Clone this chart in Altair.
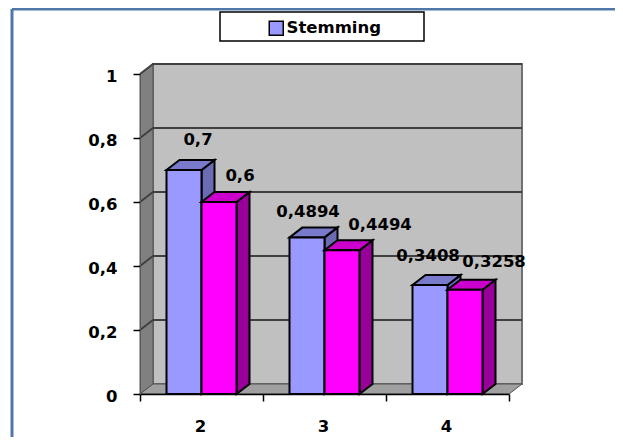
import altair as alt
import pandas as pd

categories = ["2", "3", "4"]
series_a = [0.7, 0.4894, 0.3408]
series_b = [0.6, 0.4494, 0.3258]
tick_values = [0, 0.2, 0.4, 0.6, 0.8, 1]

# layout (scale units: 1 x-unit = 123px, 1 y-unit = 320px)
W, H = 369, 320
PX, PY = 1 / 123, 1 / 320
DX, DY = 13 * PX, 10 * PY
BW = 35 * PX
BACK = "#C0C0C0"
SIDE = "#808080"
FLOOR = "#A0A0A0"
GRID = "#404040"
INK = "#000000"
FONT = "DejaVu Sans"
label_x_a = [198, 308, 428]
label_x_b = [240, 380, 494]
label_lift_a = [30, 25, 29]
label_lift_b = [26, 25, 28]

xs = alt.Scale(domain=[0, 3], nice=False, zero=False)
ys = alt.Scale(domain=[0, 1], nice=False, zero=False)
x_axis = alt.Axis(values=[0, 1, 2, 3], labels=False, grid=False, domainColor=INK, domainWidth=1.5,
                  tickColor=INK, tickWidth=1.5, tickSize=7, zindex=1)
y_axis = alt.Axis(values=tick_values, format="~g", grid=False, domainColor="#5A5A5A", tickColor=INK, tickWidth=1.5, tickSize=7,
                  labelExpr="replace(datum.label, '.', ',')", labelFont=FONT, labelFontWeight="bold",
                  labelFontSize=16.5, labelColor=INK, labelPadding=16, labelOffset=2, zindex=1)
X = alt.X("x:Q", scale=xs, title=None, axis=x_axis)
Y = alt.Y("y:Q", scale=ys, title=None, axis=y_axis)


def band(rows, color, stroke=INK, sw=2, horizontal=False):
    """Draw a parallelogram given as rows of x,y,y2 (or y,x,x2)."""
    df = pd.DataFrame(rows)
    if horizontal:
        return alt.Chart(df).mark_area(orient="horizontal").encode(
            y=Y, x=X, x2="x2:Q", fill=alt.value(color), fillOpacity=alt.value(1),
            stroke=alt.value(stroke), strokeWidth=alt.value(sw))
    return alt.Chart(df).mark_area(orient="vertical").encode(
        x=X, y=Y, y2="y2:Q", fill=alt.value(color), fillOpacity=alt.value(1),
        stroke=alt.value(stroke), strokeWidth=alt.value(sw))


layers = []

# outer frame: top and left edges only
edge = alt.Chart(pd.DataFrame({"a": [0]}))
layers.append(edge.mark_rule(color="#4F78A8", strokeWidth=3).encode(
    x=alt.value(-128), x2=alt.value(475), y=alt.value(-65)))
layers.append(edge.mark_rule(color="#4F78A8", strokeWidth=3).encode(
    x=alt.value(-128), y=alt.value(-65), y2=alt.value(363)))

# legend box
layers.append(edge.mark_rect(fill="white", stroke=INK, strokeWidth=1.5).encode(
    x=alt.value(80), x2=alt.value(284), y=alt.value(-62), y2=alt.value(-33)))

# walls
layers.append(band([{"x": DX, "y": DY, "y2": 1 + DY}, {"x": 3 + DX, "y": DY, "y2": 1 + DY}], BACK, stroke="#707070", sw=2))
layers.append(band([{"x": 0, "y": 0, "y2": 1}, {"x": DX, "y": DY, "y2": 1 + DY}], SIDE, stroke="#505050", sw=1))
layers.append(band([{"y": 0, "x": 0, "x2": 3}, {"y": DY, "x": DX, "x2": 3 + DX}], FLOOR, stroke="#505050", sw=1, horizontal=True))

# grid lines: back wall plus the slant on the side wall
grid_rows = []
for i, v in enumerate(tick_values[1:]):
    grid_rows += [{"g": i, "k": 0, "x": 0, "y": v}, {"g": i, "k": 1, "x": DX, "y": v + DY}, {"g": i, "k": 2, "x": 3 + DX, "y": v + DY}]
layers.append(alt.Chart(pd.DataFrame(grid_rows)).mark_line(color=GRID, strokeWidth=2).encode(x=X, y=Y, detail="g:N", order="k:Q"))

# bars
for i, cat in enumerate(categories):
    c = i + 0.5
    for j, (v, front, top, side) in enumerate([
        (series_a[i], "#9999FF", "#7A7ACC", "#6B6BB3"),
        (series_b[i], "#FF00FF", "#CC00CC", "#990099"),
    ]):
        x0 = c - BW + j * BW
        x1 = x0 + BW
        layers.append(band([{"x": x1, "y": 0, "y2": v}, {"x": x1 + DX, "y": DY, "y2": v + DY}], side))
        layers.append(band([{"y": v, "x": x0, "x2": x1}, {"y": v + DY, "x": x0 + DX, "x2": x1 + DX}], top, horizontal=True))
        df = pd.DataFrame({"x": [x0], "x2": [x1], "y": [0.0], "y2": [v], "s": ["Stemming"]})
        enc = dict(x=X, x2="x2:Q", y=Y, y2="y2:Q")
        if j == 0:
            enc["color"] = alt.Color("s:N", scale=alt.Scale(domain=["Stemming"], range=[front]),
                legend=alt.Legend(title=None, orient="none", legendX=128, legendY=-54, symbolType="square",
                    symbolSize=196, symbolStrokeColor=INK, symbolStrokeWidth=1.5, symbolFillColor=front, labelFont=FONT,
                    labelFontWeight="bold", labelFontSize=16.5, labelColor=INK, labelOffset=2, padding=0))
            layers.append(alt.Chart(df).mark_rect(stroke=INK, strokeWidth=2, opacity=1).encode(**enc))
        else:
            layers.append(alt.Chart(df).mark_rect(color=front, stroke=INK, strokeWidth=2, opacity=1).encode(**enc))

# value labels
fmt = lambda v: str(v).replace(".", ",")
lab = []
for i in range(3):
    lab.append({"x": (label_x_a[i] - 140) * PX, "y": series_a[i] + label_lift_a[i] * PY, "t": fmt(series_a[i])})
    lab.append({"x": (label_x_b[i] - 140) * PX, "y": series_b[i] + label_lift_b[i] * PY, "t": fmt(series_b[i])})
layers.append(alt.Chart(pd.DataFrame(lab)).mark_text(font=FONT, fontWeight="bold", fontSize=16.5, color=INK, baseline="middle").encode(x=X, y=Y, text="t:N"))

# category labels
cat_df = pd.DataFrame({"x": [i + 0.5 for i in range(3)], "t": categories})
layers.append(alt.Chart(cat_df).mark_text(font=FONT, fontWeight="bold", fontSize=16.5, color=INK, baseline="middle", dx=-1).encode(x=X, y=alt.value(33 + H), text="t:N"))

chart = alt.layer(*layers).properties(
    width=W, height=H,
    padding={"left": 132, "top": 66, "right": 106, "bottom": 43},
    autosize=alt.AutoSizeParams(type="none"),
).configure_view(stroke=None)

chart.save("out.html", embed_options={"renderer": "svg", "actions": False})
